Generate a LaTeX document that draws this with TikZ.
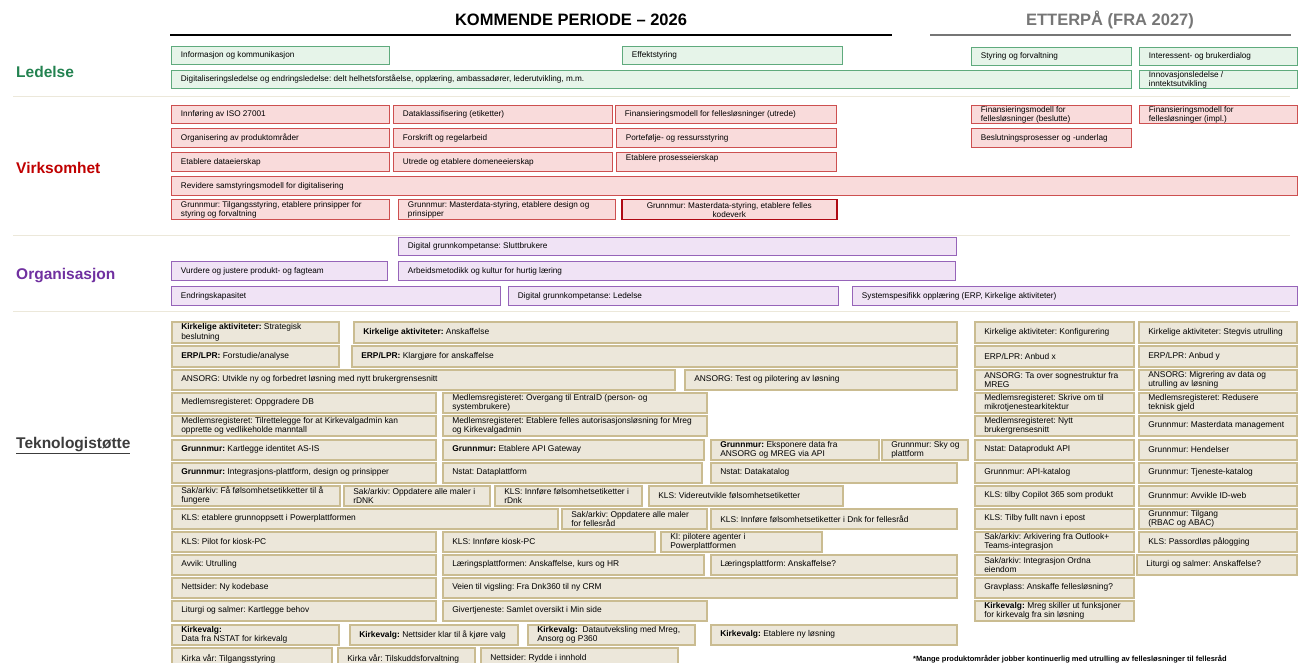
\documentclass[tikz,border=0pt]{standalone}
\usepackage{fontspec}
\setmainfont{Liberation Sans}
\frenchspacing
\definecolor{ledtext}{RGB}{35,130,80}
\definecolor{ledfill}{RGB}{230,244,233}
\definecolor{ledline}{RGB}{95,170,125}
\definecolor{virtext}{RGB}{192,0,0}
\definecolor{virfill}{RGB}{249,219,219}
\definecolor{virline}{RGB}{205,80,80}
\definecolor{virdark}{RGB}{175,10,20}
\definecolor{orgtext}{RGB}{112,48,160}
\definecolor{orgfill}{RGB}{240,227,245}
\definecolor{orgline}{RGB}{150,100,185}
\definecolor{tektext}{RGB}{60,60,60}
\definecolor{tekfill}{RGB}{236,231,218}
\definecolor{tekline}{RGB}{202,188,145}
\definecolor{sepline}{RGB}{236,232,218}
\definecolor{headgray}{RGB}{118,118,118}
% one box: style, name, x1, y1, x2, y2, text (lines broken by hand)
\newcommand{\bx}[7]{%
  \pgfmathsetmacro{\boxw}{#5-#3}%
  \pgfmathsetmacro{\boxh}{#6-#4}%
  \node[#1, anchor=north west, minimum width=\boxw pt, minimum height=\boxh pt] (#2) at (#3,#4) {};
  \node[#1, draw=none, fill=none, anchor=west, minimum width=0pt, minimum height=0pt] (#2t) at (#2.west) {#7};}

\begin{document}
\begin{tikzpicture}[x=1pt, y=-1pt,
    cellbox/.style={draw, inner xsep=9.5pt, inner ysep=0pt, align=left,
                    font=\fontsize{8.2}{9}\selectfont},
    ledbox/.style={cellbox, fill=ledfill, draw=ledline, line width=0.9pt},
    virbox/.style={cellbox, fill=virfill, draw=virline, line width=0.9pt},
    virkey/.style={virbox, draw=virdark, line width=1.5pt, align=center},
    orgbox/.style={cellbox, fill=orgfill, draw=orgline, line width=0.9pt},
    tekbox/.style={cellbox, fill=tekfill, draw=tekline, line width=1.6pt,
                   font=\fontsize{8.4}{9.3}\selectfont},
    lane/.style={anchor=west, inner sep=0pt, font=\fontsize{15.5}{18}\selectfont\bfseries},
    period/.style={font=\fontsize{16.5}{19}\selectfont\bfseries},
    sep/.style={draw=sepline, line width=0.9pt}]
\useasboundingbox (0,0) rectangle (1301,663);

% Periods
\node[period] (hnow) at (571,20) {KOMMENDE PERIODE – 2026};
\node[period, text=headgray] (hlater) at (1110,20) {ETTERPÅ (FRA 2027)};
\coordinate (nowL) at (170,35); \coordinate (nowR) at (892,35);
\coordinate (laterL) at (930,35); \coordinate (laterR) at (1291,35);
\draw[line width=2.4pt] (nowL) -- (nowR);
\draw[line width=2pt, headgray] (laterL) -- (laterR);

% Lanes and separators
\node[lane, text=ledtext] (ledelse) at (16,72) {Ledelse};
\node[lane, text=virtext] (virksomhet) at (16,168) {Virksomhet};
\node[lane, text=orgtext] (organisasjon) at (16,276) {Organisasjon};
\node[lane, text=tektext] (teknologi) at (16,446) {\underline{Teknologistøtte}};
\foreach \y in {96,235,311} {
    \draw[sep] (13,\y) -- (1290,\y);
}

% Ledelse
\bx{ledbox}{led1}{171}{46}{389}{64}{Informasjon og kommunikasjon}
\bx{ledbox}{led2}{622}{46}{842}{64}{Effektstyring}
\bx{ledbox}{led3}{971}{47}{1131}{65}{Styring og forvaltning}
\bx{ledbox}{led4}{1139}{47}{1297}{65}{Interessent- og brukerdialog}
\bx{ledbox}{led5}{171}{70}{1131}{88}{Digitaliseringsledelse og endringsledelse: delt helhetsforståelse, opplæring, ambassadører, lederutvikling, m.m.}
\bx{ledbox}{led6}{1139}{70}{1297}{88}{Innovasjonsledelse /\\inntektsutvikling}

% Virksomhet
\bx{virbox}{vir1}{171}{105}{389}{123}{Innføring av ISO 27001}
\bx{virbox}{vir2}{393}{105}{612}{123}{Dataklassifisering (etiketter)}
\bx{virbox}{vir3}{615}{105}{836}{123}{Finansieringsmodell for fellesløsninger (utrede)}
\bx{virbox}{vir4}{971}{105}{1131}{123}{Finansieringsmodell for\\fellesløsninger (beslutte)}
\bx{virbox}{vir5}{1139}{105}{1297}{123}{Finansieringsmodell for\\fellesløsninger (impl.)}
\bx{virbox}{vir6}{171}{128}{389}{147}{Organisering av produktområder}
\bx{virbox}{vir7}{393}{128}{612}{147}{Forskrift og regelarbeid}
\bx{virbox}{vir8}{616}{128}{836}{147}{Portefølje- og ressursstyring}
\bx{virbox}{vir9}{971}{128}{1131}{147}{Beslutningsprosesser og -underlag}
\bx{virbox}{vir10}{171}{152}{389}{171}{Etablere dataeierskap}
\bx{virbox}{vir11}{393}{152}{612}{171}{Utrede og etablere domeneeierskap}
\bx{virbox}{vir12}{616}{152}{836}{171}{\raisebox{9pt}{Etablere prosesseierskap}}
\bx{virbox}{vir13}{171}{176}{1297}{195}{Revidere samstyringsmodell for digitalisering}
\bx{virbox}{vir14}{171}{199}{389}{219}{Grunnmur: Tilgangsstyring, etablere prinsipper for\\styring og forvaltning}
\bx{virbox}{vir15}{398}{199}{615}{219}{Grunnmur: Masterdata-styring, etablere design og\\prinsipper}
\node[virkey, anchor=north west, minimum width=215pt, minimum height=20pt] (vir16) at (621,199)
    {Grunnmur: Masterdata-styring, etablere felles\\kodeverk};

% Organisasjon
\bx{orgbox}{org1}{398}{237}{956}{255}{Digital grunnkompetanse: Sluttbrukere}
\bx{orgbox}{org2}{171}{261}{387}{280}{Vurdere og justere produkt- og fagteam}
\bx{orgbox}{org3}{398}{261}{955}{280}{Arbeidsmetodikk og kultur for hurtig læring}
\bx{orgbox}{org4}{171}{286}{500}{305}{Endringskapasitet}
\bx{orgbox}{org5}{508}{286}{838}{305}{Digital grunnkompetanse: Ledelse}
\bx{orgbox}{org6}{852}{286}{1297}{305}{Systemspesifikk opplæring (ERP, Kirkelige aktiviteter)}

% Teknologistotte
\bx{tekbox}{tek1}{171}{321}{338}{342}{\textbf{Kirkelige aktiviteter:} Strategisk\\beslutning}
\bx{tekbox}{tek2}{353}{321}{956}{342}{\textbf{Kirkelige aktiviteter:} Anskaffelse}
\bx{tekbox}{tek3}{974}{321}{1133}{342}{Kirkelige aktiviteter: Konfigurering}
\bx{tekbox}{tek4}{1138}{321}{1296}{342}{Kirkelige aktiviteter: Stegvis utrulling}
\bx{tekbox}{tek5}{171}{345}{338}{366}{\textbf{ERP/LPR:} Forstudie/analyse}
\bx{tekbox}{tek6}{351}{345}{956}{366}{\textbf{ERP/LPR:} Klargjøre for anskaffelse}
\bx{tekbox}{tek7}{974}{345}{1133}{366}{ERP/LPR: Anbud x}
\bx{tekbox}{tek8}{1138}{345}{1296}{366}{ERP/LPR: Anbud y}
\bx{tekbox}{tek9}{171}{369}{674}{389}{ANSORG: Utvikle ny og forbedret løsning med nytt brukergrensesnitt}
\bx{tekbox}{tek10}{684}{369}{956}{389}{ANSORG: Test og pilotering av løsning}
\bx{tekbox}{tek11}{974}{369}{1133}{389}{ANSORG: Ta over sognestruktur fra\\MREG}
\bx{tekbox}{tek12}{1138}{369}{1296}{389}{ANSORG: Migrering av data og\\utrulling av løsning}
\bx{tekbox}{tek13}{171}{392}{435}{412}{Medlemsregisteret: Oppgradere DB}
\bx{tekbox}{tek14}{442}{392}{706}{412}{Medlemsregisteret: Overgang til EntraID (person- og\\systembrukere)}
\bx{tekbox}{tek15}{974}{392}{1133}{412}{Medlemsregisteret: Skrive om til\\mikrotjenestearkitektur}
\bx{tekbox}{tek16}{1138}{392}{1296}{412}{Medlemsregisteret: Redusere\\teknisk gjeld}
\bx{tekbox}{tek17}{171}{415}{435}{435}{Medlemsregisteret: Tilrettelegge for at Kirkevalgadmin kan\\opprette og vedlikeholde manntall}
\bx{tekbox}{tek18}{442}{415}{706}{435}{Medlemsregisteret: Etablere felles autorisasjonsløsning for Mreg\\og Kirkevalgadmin}
\bx{tekbox}{tek19}{974}{415}{1133}{435}{Medlemsregisteret: Nytt\\brukergrensesnitt}
\bx{tekbox}{tek20}{1138}{415}{1296}{435}{Grunnmur: Masterdata management}
\bx{tekbox}{tek21}{171}{439}{435}{459}{\textbf{Grunnmur:} Kartlegge identitet AS-IS}
\bx{tekbox}{tek22}{442}{439}{703}{459}{\textbf{Grunnmur:} Etablere API Gateway}
\bx{tekbox}{tek23}{710}{439}{878}{459}{\textbf{Grunnmur:} Eksponere data fra\\ANSORG og MREG via API}
\bx{tekbox}{tek24}{881}{439}{967}{459}{Grunnmur: Sky og\\plattform}
\bx{tekbox}{tek25}{974}{439}{1133}{459}{Nstat: Dataprodukt API}
\bx{tekbox}{tek26}{1138}{439}{1296}{459}{Grunnmur: Hendelser}
\bx{tekbox}{tek27}{171}{462}{435}{482}{\textbf{Grunnmur:} Integrasjons-plattform, design og prinsipper}
\bx{tekbox}{tek28}{442}{462}{701}{482}{Nstat: Dataplattform}
\bx{tekbox}{tek29}{710}{462}{956}{482}{Nstat: Datakatalog}
\bx{tekbox}{tek30}{974}{462}{1133}{482}{Grunnmur: API-katalog}
\bx{tekbox}{tek31}{1138}{462}{1296}{482}{Grunnmur: Tjeneste-katalog}
\bx{tekbox}{tek32}{171}{485}{339}{505}{Sak/arkiv: Få følsomhetsetikketter til å\\fungere}
\bx{tekbox}{tek33}{343}{485}{489}{505}{Sak/arkiv: Oppdatere alle maler i\\rDNK}
\bx{tekbox}{tek34}{494}{485}{641}{505}{KLS: Innføre følsomhetsetiketter i\\rDnk}
\bx{tekbox}{tek35}{648}{485}{842}{505}{KLS: Videreutvikle følsomhetsetiketter}
\bx{tekbox}{tek36}{974}{485}{1133}{505}{KLS: tilby Copilot 365 som produkt}
\bx{tekbox}{tek37}{1138}{485}{1296}{505}{Grunnmur: Avvikle ID-web}
\bx{tekbox}{tek38}{171}{508}{557}{528}{KLS: etablere grunnoppsett i Powerplattformen}
\bx{tekbox}{tek39}{561}{508}{706}{528}{Sak/arkiv: Oppdatere alle maler\\for fellesråd}
\bx{tekbox}{tek40}{710}{508}{956}{528}{KLS: Innføre følsomhetsetiketter i Dnk for fellesråd}
\bx{tekbox}{tek41}{974}{508}{1133}{528}{KLS: Tilby fullt navn i epost}
\bx{tekbox}{tek42}{1138}{508}{1296}{528}{Grunnmur: Tilgang\\(RBAC og ABAC)}
\bx{tekbox}{tek43}{171}{531}{435}{551}{KLS: Pilot for kiosk-PC}
\bx{tekbox}{tek44}{442}{531}{654}{551}{KLS: Innføre kiosk-PC}
\bx{tekbox}{tek45}{660}{531}{821}{551}{KI: pilotere agenter i\\Powerplattformen}
\bx{tekbox}{tek46}{974}{531}{1133}{551}{Sak/arkiv: Arkivering fra Outlook+\\Teams-integrasjon}
\bx{tekbox}{tek47}{1138}{531}{1296}{551}{KLS: Passordløs pålogging}
\bx{tekbox}{tek48}{171}{554}{435}{574}{Avvik: Utrulling}
\bx{tekbox}{tek49}{442}{554}{703}{574}{Læringsplattformen: Anskaffelse, kurs og HR}
\bx{tekbox}{tek50}{710}{554}{956}{574}{Læringsplattform: Anskaffelse?}
\bx{tekbox}{tek51}{974}{554}{1133}{574}{Sak/arkiv: Integrasjon Ordna\\eiendom}
\bx{tekbox}{tek52}{1136}{554}{1296}{574}{Liturgi og salmer: Anskaffelse?}
\bx{tekbox}{tek53}{171}{577}{435}{597}{Nettsider: Ny kodebase}
\bx{tekbox}{tek54}{442}{577}{956}{597}{Veien til vigsling: Fra Dnk360 til ny CRM}
\bx{tekbox}{tek55}{974}{577}{1133}{597}{Gravplass: Anskaffe fellesløsning?}
\bx{tekbox}{tek56}{171}{600}{435}{620}{Liturgi og salmer: Kartlegge behov}
\bx{tekbox}{tek57}{442}{600}{706}{620}{Givertjeneste: Samlet oversikt i Min side}
\bx{tekbox}{tek58}{974}{600}{1133}{620}{\textbf{Kirkevalg:} Mreg skiller ut funksjoner\\for kirkevalg fra sin løsning}
\bx{tekbox}{tek59}{171}{624}{338}{644}{\textbf{Kirkevalg:}\\Data fra NSTAT for kirkevalg}
\bx{tekbox}{tek60}{349}{624}{517}{644}{\textbf{Kirkevalg:} Nettsider klar til å kjøre valg}
\bx{tekbox}{tek61}{527}{624}{694}{644}{\textbf{Kirkevalg:}\ \ Datautveksling med Mreg,\\Ansorg og P360}
\bx{tekbox}{tek62}{710}{624}{956}{644}{\textbf{Kirkevalg:} Etablere ny løsning}
\bx{tekbox}{tek63}{171}{647}{331}{669}{Kirka vår: Tilgangsstyring}
\bx{tekbox}{tek64}{337}{647}{474}{669}{Kirka vår: Tilskuddsforvaltning}
\bx{tekbox}{tek65}{480}{647}{677}{669}{Nettsider: Rydde i innhold}

% Footnote
\node[anchor=base west, inner sep=0pt, font=\fontsize{7.5}{9}\selectfont\bfseries] (note)
    at (913,661) {*Mange produktområder jobber kontinuerlig med utrulling av fellesløsninger til fellesråd};
\end{tikzpicture}
\end{document}
